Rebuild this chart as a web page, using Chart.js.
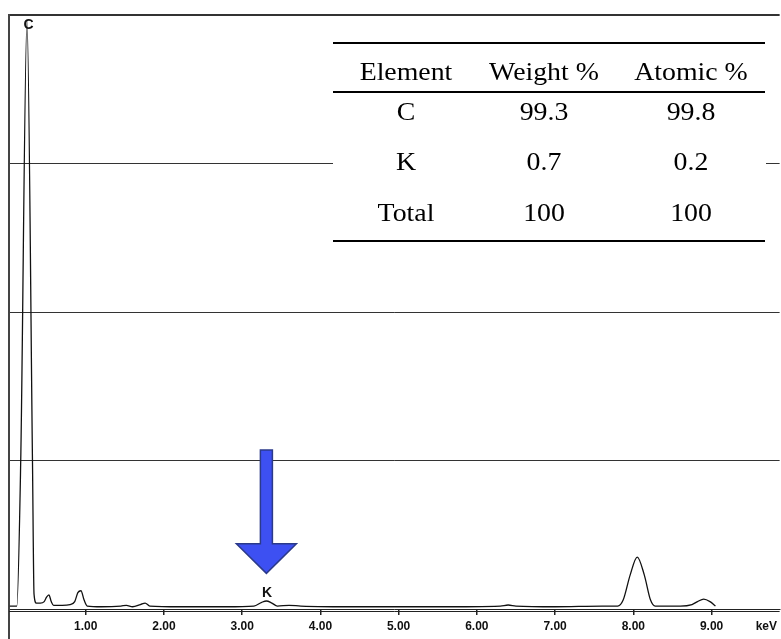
<!DOCTYPE html>
<html>
<head>
<meta charset="utf-8">
<script src="https://cdn.jsdelivr.net/npm/chart.js@4/dist/chart.umd.min.js"></script>
<style>
  html, body { margin: 0; padding: 0; background: #fff; }
  canvas { display: block; }
</style>
</head>
<body>
<canvas id="eds" width="781" height="639"></canvas>
<script>
// EDS spectrum, energy in keV, intensity in arbitrary units (4 grid divisions)
const energy = [0.03, 0.12, 0.17, 0.25, 0.32, 0.34, 0.37, 0.42, 0.47, 0.50, 0.53, 0.56, 0.59,
  0.70, 0.80, 0.86, 0.90, 0.94, 0.98, 1.02, 1.20, 1.45, 1.52, 1.60, 1.70, 1.76, 1.82,
  2.20, 2.80, 3.15, 3.25, 3.31, 3.38, 3.45, 3.60, 3.75, 4.50, 5.50, 6.30, 6.40, 6.50,
  7.00, 7.60, 7.80, 7.87, 7.96, 8.05, 8.14, 8.22, 8.28, 8.60, 8.75, 8.82, 8.90, 8.98, 9.05];
const counts = [0.02, 0.02, 1.0, 3.96, 1.0, 0.1, 0.04, 0.04, 0.05, 0.08, 0.095, 0.05, 0.025,
  0.025, 0.03, 0.05, 0.11, 0.123, 0.06, 0.02, 0.015, 0.02, 0.025, 0.015, 0.03, 0.04, 0.02,
  0.015, 0.015, 0.02, 0.045, 0.054, 0.04, 0.02, 0.025, 0.02, 0.015, 0.015, 0.02, 0.027, 0.02,
  0.015, 0.02, 0.02, 0.06, 0.23, 0.35, 0.23, 0.06, 0.02, 0.02, 0.03, 0.05, 0.067, 0.05, 0.02];

const tickValues = [1, 2, 3, 4, 5, 6, 7, 8, 9];
const tickLabels = ["1.00", "2.00", "3.00", "4.00", "5.00", "6.00", "7.00", "8.00", "9.00"];
const unitLabel = "keV";
const unitPos = 9.7;

const peakNames = ["C", "K"];
const peakEnergy = [0.27, 3.32];
const peakLabelLevel = [3.93, 0.105];

const arrowEnergy = 3.31;
const arrowTop = 1.07, arrowNeck = 0.44, arrowTip = 0.24;

const tableHeader = ["Element", "Weight %", "Atomic %"];
const elements = ["C", "K", "Total"];
const weightPct = ["99.3", "0.7", "100"];
const atomicPct = ["99.8", "0.2", "100"];

const extras = {
  id: "extras",
  afterDraw(chart) {
    const { ctx, chartArea: a, scales: { x, y } } = chart;
    ctx.save();

    // left axis runs down past the baseline, second axis line under the first
    ctx.strokeStyle = "#444";
    ctx.lineWidth = 2;
    ctx.beginPath();
    ctx.moveTo(a.left, a.bottom);
    ctx.lineTo(a.left, chart.height);
    ctx.stroke();
    ctx.strokeStyle = "#222";
    ctx.lineWidth = 1;
    ctx.beginPath();
    ctx.moveTo(a.left, a.bottom + 2.5);
    ctx.lineTo(a.right, a.bottom + 2.5);
    ctx.stroke();

    // peak labels
    ctx.fillStyle = "#111";
    ctx.font = "bold 14px 'Liberation Sans', Arial, sans-serif";
    ctx.textAlign = "center";
    ctx.textBaseline = "middle";
    peakNames.forEach((n, i) => {
      ctx.fillText(n, x.getPixelForValue(peakEnergy[i]), y.getPixelForValue(peakLabelLevel[i]));
    });

    // arrow pointing at K
    const ax = x.getPixelForValue(arrowEnergy);
    const yTop = y.getPixelForValue(arrowTop);
    const yNeck = y.getPixelForValue(arrowNeck);
    const yTip = y.getPixelForValue(arrowTip);
    ctx.beginPath();
    ctx.moveTo(ax - 6, yTop);
    ctx.lineTo(ax + 6, yTop);
    ctx.lineTo(ax + 6, yNeck);
    ctx.lineTo(ax + 30, yNeck);
    ctx.lineTo(ax, yTip);
    ctx.lineTo(ax - 30, yNeck);
    ctx.lineTo(ax - 6, yNeck);
    ctx.closePath();
    ctx.fillStyle = "#3d50f2";
    ctx.fill();
    ctx.strokeStyle = "#2b3a8a";
    ctx.lineWidth = 1.5;
    ctx.stroke();

    // composition table
    const left = 333, right = 766;
    ctx.fillStyle = "#fff";
    ctx.fillRect(left, 28, right - left, 222);
    ctx.strokeStyle = "#000";
    ctx.lineWidth = 2;
    [43, 92, 241].forEach(ry => {
      ctx.beginPath();
      ctx.moveTo(left, ry);
      ctx.lineTo(right - 1, ry);
      ctx.stroke();
    });
    const cols = [406, 544, 691];
    const rowsY = [113, 163, 214];
    ctx.fillStyle = "#000";
    ctx.font = "26px 'Liberation Serif', 'Times New Roman', serif";
    const put = (t, cx, cy) => {
      ctx.save();
      ctx.translate(cx, cy);
      ctx.scale(1.07, 1);
      ctx.fillText(t, 0, 0);
      ctx.restore();
    };
    tableHeader.forEach((h, i) => put(h, cols[i], 73));
    elements.forEach((e, i) => {
      put(e, cols[0], rowsY[i]);
      put(weightPct[i], cols[1], rowsY[i]);
      put(atomicPct[i], cols[2], rowsY[i]);
    });
    ctx.restore();
  }
};

new Chart(document.getElementById("eds"), {
  type: "line",
  data: {
    datasets: [{
      data: energy.map((e, i) => ({ x: e, y: counts[i] })),
      borderColor: "#111",
      borderWidth: 1.3,
      pointRadius: 0,
      cubicInterpolationMode: "monotone",
      fill: false
    }]
  },
  options: {
    responsive: false,
    animation: false,
    layout: { padding: { left: 9, top: 15, right: 0, bottom: 0 } },
    plugins: { legend: { display: false }, tooltip: { enabled: false } },
    scales: {
      x: {
        type: "linear",
        min: 0.02,
        max: 9.87,
        afterBuildTicks: s => { s.ticks = tickValues.concat([unitPos]).map(v => ({ value: v })); },
        afterFit: s => { s.height = 30; },
        ticks: {
          autoSkip: false,
          maxRotation: 0,
          padding: 4,
          color: "#111",
          font: { family: "'Liberation Sans', Arial, sans-serif", size: 12, weight: "bold" },
          callback: (v, i) => (i < tickLabels.length ? tickLabels[i] : unitLabel)
        },
        grid: {
          drawOnChartArea: false,
          drawTicks: true,
          tickLength: 6,
          lineWidth: 1.5,
          color: c => (c.tick && c.tick.value === unitPos ? "rgba(0,0,0,0)" : "#222")
        },
        border: { color: "#222", width: 1 }
      },
      y: {
        min: 0,
        max: 4,
        afterFit: s => { s.width = 0; },
        ticks: { display: false, stepSize: 1 },
        grid: {
          drawTicks: false,
          color: c => (c.tick && c.tick.value === 0 ? "rgba(0,0,0,0)" : "#333"),
          lineWidth: c => (c.tick && c.tick.value === 4 ? 2 : 1)
        },
        border: { color: "#444", width: 2 }
      }
    }
  },
  plugins: [extras]
});
</script>
</body>
</html>
